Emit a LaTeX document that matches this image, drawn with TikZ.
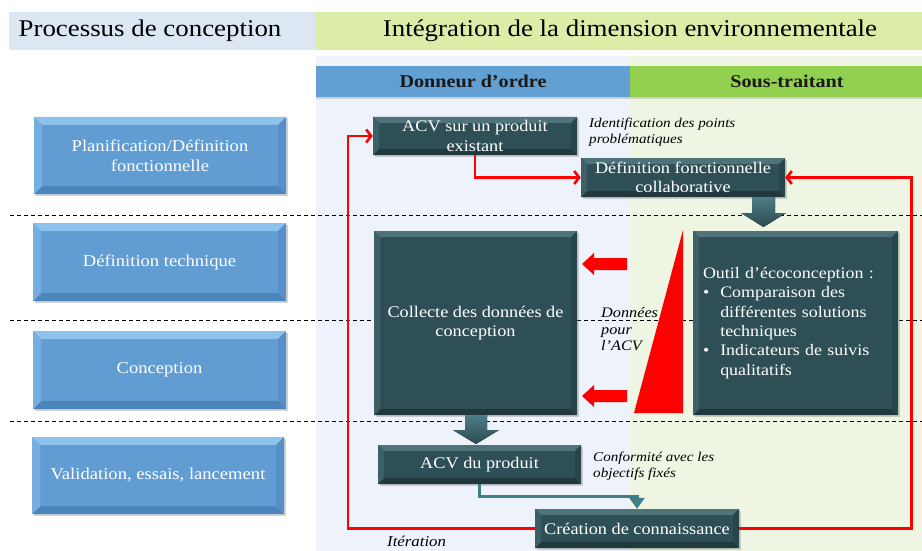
\documentclass[tikz,border=0pt]{standalone}
\usepackage{fontspec}
\setmainfont{Liberation Serif}[FakeStretch=1.12]
\usetikzlibrary{arrows.meta,shadows,calc}
\definecolor{hdrblue}{HTML}{DDE7F3}
\definecolor{hdrgreen}{HTML}{DCEDA8}
\definecolor{panblue}{HTML}{EEF2FA}
\definecolor{pangreen}{HTML}{EEF6E3}
\definecolor{barblue}{HTML}{629FD3}
\definecolor{bargreen}{HTML}{92D050}
\definecolor{bluemain}{HTML}{619DD3}
\definecolor{bluetop}{HTML}{8DC2EC}
\definecolor{blueleft}{HTML}{76AEE0}
\definecolor{blueright}{HTML}{5690C6}
\definecolor{bluebot}{HTML}{4C85BB}
\definecolor{darkmain}{HTML}{2F4F56}
\definecolor{darktop}{HTML}{4F737B}
\definecolor{darkleft}{HTML}{3D6067}
\definecolor{darkright}{HTML}{29454C}
\definecolor{darkbot}{HTML}{21383E}
\definecolor{fattop}{HTML}{4E7E87}
\definecolor{fatbot}{HTML}{2C4A51}
\definecolor{tealc}{HTML}{3F7D87}
\tikzset{
  bev/.style 2 args={fill=#1main, draw=none, inner sep=0pt, text=white, align=center,
    drop shadow={shadow xshift=1.5pt,shadow yshift=-1.5pt,opacity=.35},
    path picture={
      \path (path picture bounding box.north west) coordinate (bNW)
            (path picture bounding box.north east) coordinate (bNE)
            (path picture bounding box.south west) coordinate (bSW)
            (path picture bounding box.south east) coordinate (bSE);
      \fill[#1top] (bNW) -- (bNE) -- ([shift={(-#2,-#2)}]bNE) -- ([shift={(#2,-#2)}]bNW) -- cycle;
      \fill[#1bot] (bSW) -- (bSE) -- ([shift={(-#2,#2)}]bSE) -- ([shift={(#2,#2)}]bSW) -- cycle;
      \fill[#1left] (bNW) -- ([shift={(#2,-#2)}]bNW) -- ([shift={(#2,#2)}]bSW) -- (bSW) -- cycle;
      \fill[#1right] (bNE) -- ([shift={(-#2,-#2)}]bNE) -- ([shift={(-#2,#2)}]bSE) -- (bSE) -- cycle;
    }},
  bluebox/.style={bev={blue}{8pt}, font=\fontsize{16.6}{20}\selectfont},
  darkbox/.style={bev={dark}{6pt}, font=\fontsize{16.3}{19.5}\selectfont},
  redline/.style={draw=red, line width=2.6pt, line join=miter, -{Straight Barb[length=5pt,width=13pt]}},
  tealline/.style={draw=tealc, line width=3pt, -{Triangle[length=11pt,width=15pt]}},
  fatarrow/.style={top color=fattop, bottom color=fatbot, draw=none},
  redblk/.style={fill=red, draw=none},
  sepline/.style={draw=black, line width=0.9pt, dash pattern=on 4pt off 3pt},
  note/.style={font=\itshape\fontsize{13.5}{16}\selectfont, align=left, inner sep=0pt, anchor=west},
  bartext/.style={font=\bfseries\fontsize{18}{20}\selectfont, text=black!90}
}
\begin{document}
\begin{tikzpicture}[x=1pt,y=-1pt]
\useasboundingbox (0,0) rectangle (922,551);
\fill[white] (0,0) rectangle (922,551);
% headers
\fill[hdrblue] (9,12) rectangle (315,50);
\fill[hdrgreen] (315,12) rectangle (922,50);
\node[font=\fontsize{24}{27}\selectfont] (h1) at (150,31) {Processus de conception};
\node[font=\fontsize{24}{27}\selectfont] (h2) at (630,31) {Intégration de la dimension environnementale};
% panels
\fill[panblue] (316,56) rectangle (630,551);
\fill[pangreen] (630,56) rectangle (922,551);
% separators
\draw[sepline] (10,215) -- (922,215);
\draw[sepline] (10,320) -- (922,320);
\draw[sepline] (10,421) -- (922,421);
% bars
\fill[barblue, drop shadow={shadow xshift=0pt,shadow yshift=-2pt,opacity=.3}] (316,66) rectangle (630,97);
\fill[bargreen, drop shadow={shadow xshift=0pt,shadow yshift=-2pt,opacity=.3}] (630,66) rectangle (922,97);
\node[bartext] (b1) at (473,81.5) {Donneur d’ordre};
\node[bartext] (b2) at (787,81.5) {Sous-traitant};
% left process boxes
\node[bluebox, minimum width=252pt, minimum height=77pt] (plan) at (160,155.5) {Planification/Définition\\fonctionnelle};
\node[bluebox, minimum width=253pt, minimum height=78pt] (deft) at (159.5,262) {Définition technique};
\node[bluebox, minimum width=253pt, minimum height=78pt] (conc) at (159.5,370) {Conception};
\node[bluebox, minimum width=252pt, minimum height=77pt] (valid) at (158,475.5) {Validation, essais, lancement};
% dark boxes
\node[darkbox, minimum width=204pt, minimum height=38pt] (acv1) at (475,136) {ACV sur un produit\\existant};
\node[darkbox, minimum width=204pt, minimum height=39pt] (defcol) at (683,177.5) {Définition fonctionnelle\\collaborative};
\node[darkbox, minimum width=203pt, minimum height=184pt] (coll) at (475.5,323) {Collecte des données de\\conception};
\node[darkbox, minimum width=205pt, minimum height=184pt, align=left, text width=185pt, font=\fontsize{16}{19.4}\selectfont] (outil) at (795.5,323) {%
\begin{tabular}{@{}l@{\hspace{11pt}}l@{}}
\multicolumn{2}{@{}l}{Outil d’écoconception :}\\
\textbullet & Comparaison des\\
 & différentes solutions\\
 & techniques\\
\textbullet & Indicateurs de suivis\\
 & qualitatifs
\end{tabular}};
\node[darkbox, minimum width=203pt, minimum height=39pt] (acvp) at (479.5,464.5) {ACV du produit};
\node[darkbox, minimum width=204pt, minimum height=39pt] (crea) at (637,528.5) {Création de connaissance};
% notes
\node[note] (ident) at (589,132.5) {Identification des points\\problématiques};
\node[note, font=\itshape\fontsize{14.5}{16.5}\selectfont] (donn) at (601,329.5) {Données\\pour\\l’ACV};
\node[note] (conf) at (593,466.5) {Conformité avec les\\objectifs fixés};
\node[note, font=\itshape\fontsize{15}{17}\selectfont] (iter) at (387,541) {Itération};
% fat arrows
\fill[fatarrow] (752,197) -- (775,197) -- (775,213) -- (786,213) -- (763.5,227) -- (741,213) -- (752,213) -- cycle;
\fill[fatarrow] (465,415) -- (487,415) -- (487,430) -- (499,430) -- (476,444) -- (453,430) -- (465,430) -- cycle;
% red block arrows and triangle
\fill[redblk] (582,264) -- (594,253) -- (594,258) -- (627,258) -- (627,270) -- (594,270) -- (594,275) -- cycle;
\fill[redblk] (582,396) -- (594,385) -- (594,390) -- (627,390) -- (627,402) -- (594,402) -- (594,407) -- cycle;
\fill[red] (634,413) -- (683,230) -- (683,413) -- cycle;
% connectors
\draw[redline] (crea.west) -| ($(acv1.west)+(-25,0)$) -- (acv1.west);
\draw[redline] (acv1.south) |- (defcol.west);
\draw[redline] (crea.east) -| ($(defcol.east)+(126,0)$) -- (defcol.east);
\draw[tealline] (acvp.south) |- ($(crea.north)+(0,-12)$) -- (crea.north);
\end{tikzpicture}
\end{document}
